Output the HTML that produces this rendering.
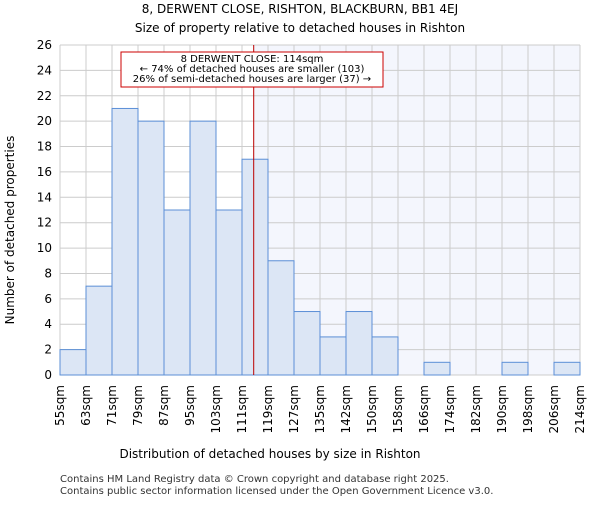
<!DOCTYPE html>
<html><head><meta charset="utf-8"><style>body{margin:0;background:#fff}svg{font-family:"DejaVu Sans","Liberation Sans",sans-serif}</style></head>
<body>
<svg id="c" width="600" height="500" xmlns="http://www.w3.org/2000/svg">
<text x="300" y="13" text-anchor="middle" font-size="12">8, DERWENT CLOSE, RISHTON, BLACKBURN, BB1 4EJ</text>
<text x="300" y="32" text-anchor="middle" font-size="12">Size of property relative to detached houses in Rishton</text>
<g id="plot"></g>
<text x="270" y="458" text-anchor="middle" font-size="12">Distribution of detached houses by size in Rishton</text>
<text x="14" y="230" text-anchor="middle" font-size="12" transform="rotate(-90 14 230)">Number of detached properties</text>
<text x="60" y="482" font-size="10" fill="#333">Contains HM Land Registry data © Crown copyright and database right 2025.</text>
<text x="60" y="494" font-size="10" fill="#333">Contains public sector information licensed under the Open Government Licence v3.0.</text>
</svg>
<script>
const categories=["55sqm","63sqm","71sqm","79sqm","87sqm","95sqm","103sqm","111sqm","119sqm","127sqm","135sqm","142sqm","150sqm","158sqm","166sqm","174sqm","182sqm","190sqm","198sqm","206sqm","214sqm"];
const counts=[2,7,21,20,13,20,13,17,9,5,3,5,3,0,1,0,0,1,0,1];
const yTicks=[0,2,4,6,8,10,12,14,16,18,20,22,24,26];
const markerBinPos=7.45;
const L=60,R=580,T=45,B=375,yMax=26;
const ns="http://www.w3.org/2000/svg";
const g=document.getElementById('plot');
const n=counts.length,bw=(R-L)/n;
const xs=i=>L+i*bw, ys=v=>B-(v/yMax)*(B-T);
function mk(t,a){const e=document.createElementNS(ns,t);for(const k in a)e.setAttribute(k,a[k]);g.appendChild(e);return e;}
const mx=xs(markerBinPos);
let sh=mk('rect',{x:mx,y:T,width:R-mx,height:B-T,fill:'#f4f6fd'});


for(let i=0;i<=n;i++){let l=mk('line',{x1:xs(i),x2:xs(i),y1:T,y2:B,stroke:'#ccc','stroke-width':1});

}
yTicks.forEach(v=>{let l=mk('line',{x1:L,x2:R,y1:ys(v),y2:ys(v),stroke:'#ccc','stroke-width':1});


let t=mk('text',{x:L-8,y:ys(v)+4,'text-anchor':'end','font-size':12});t.textContent=v;

});
counts.forEach((v,i)=>{if(v<=0)return;let r=mk('rect',{x:xs(i),y:ys(v),width:bw,height:B-ys(v),fill:'#dce6f5',stroke:'#5b8fd6','stroke-width':1});

});
categories.forEach((c,i)=>{const x=xs(i)+4;let t=mk('text',{x:x,y:385,'text-anchor':'end','font-size':12,transform:`rotate(-90 ${x} 385)`});t.textContent=c;

});
let ml=mk('line',{x1:mx,x2:mx,y1:T,y2:B,stroke:'#b00','stroke-width':1});


let box=mk('rect',{x:121,y:52,width:262,height:35,fill:'#fff',stroke:'#c00','stroke-width':1});


["8 DERWENT CLOSE: 114sqm","← 74% of detached houses are smaller (103)","26% of semi-detached houses are larger (37) →"].forEach((s,k)=>{let t=mk('text',{x:252,y:62+k*10,'text-anchor':'middle','font-size':10});t.textContent=s;

});
</script>
</body></html>
